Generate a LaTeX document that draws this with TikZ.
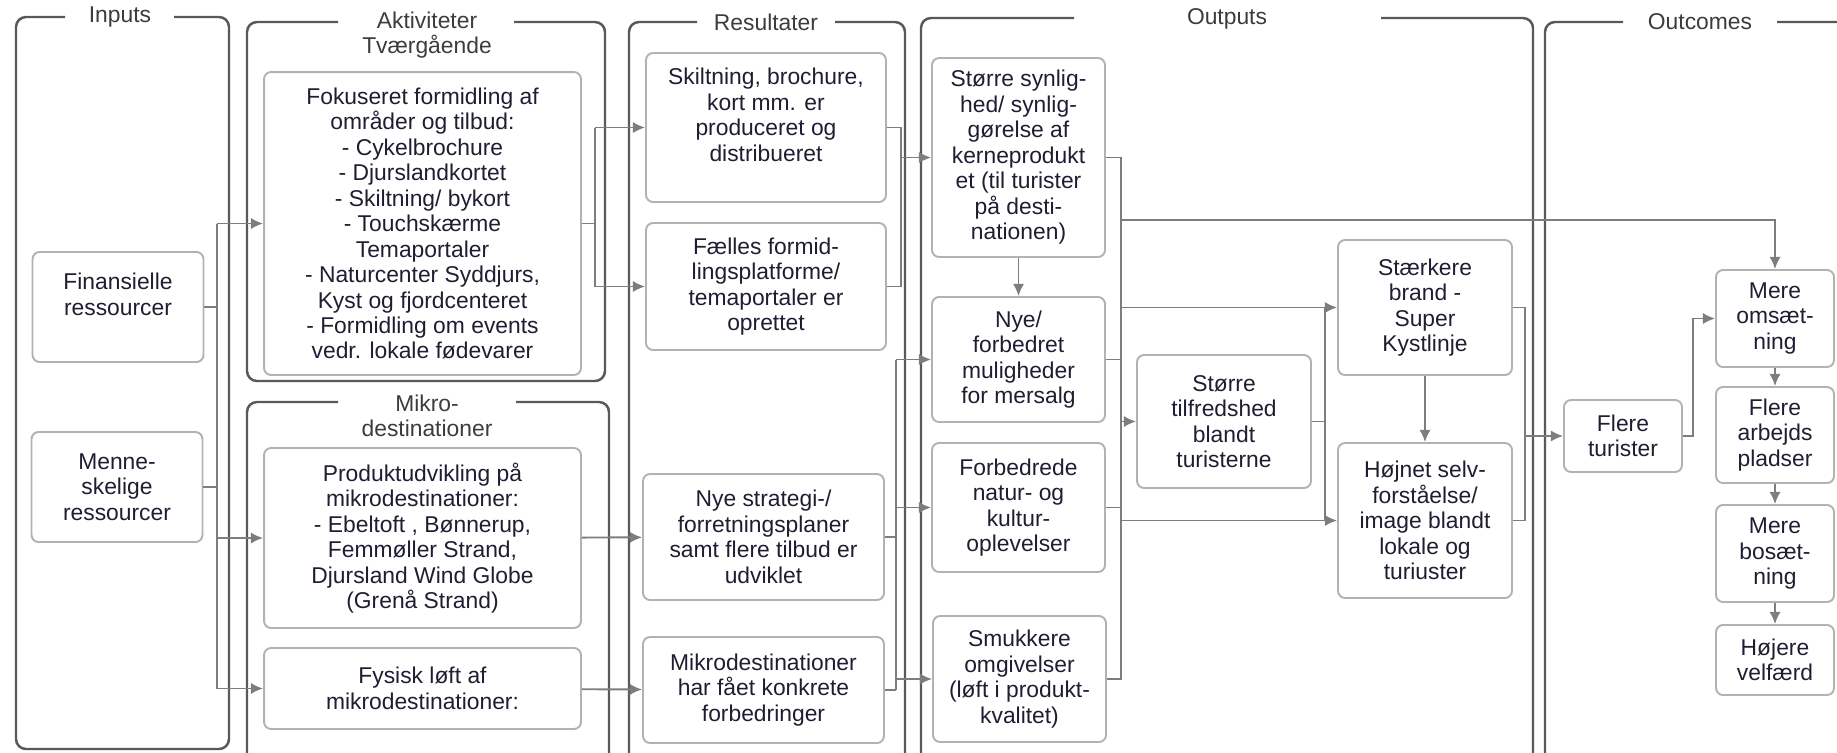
\documentclass[tikz,border=0pt]{standalone}
\usepackage{fontspec}
\setmainfont{Liberation Sans}
\usetikzlibrary{arrows.meta}
\definecolor{tekst}{RGB}{30,30,50}
\definecolor{titelfarve}{RGB}{60,60,60}
\definecolor{rammefarve}{RGB}{89,89,89}
\definecolor{boksfarve}{RGB}{178,178,178}
\definecolor{pilfarve}{RGB}{125,125,125}
\begin{document}
\begin{tikzpicture}[x=0.02cm, y=-0.02cm, >={Latex[length=7pt,width=6.5pt]},
		boks/.style={draw=boksfarve, line width=1.1pt, rounded corners=0.14cm, align=center, inner sep=0pt, text=tekst, font=\fontsize{13}{14.5}\selectfont},
		ramme/.style={draw=rammefarve, line width=1.4pt, rounded corners=0.2cm},
		titel/.style={text=titelfarve, align=center, font=\fontsize{13}{14.5}\selectfont},
		pil/.style={draw=pilfarve, line width=1.1pt}]
		\useasboundingbox (0,0) rectangle (1837,752);
		\clip (0,0) rectangle (1837,752);
		% rammer
		\draw[ramme] (174,17) -- (229,17) -- (229,749) -- (16,749) -- (16,17) -- (65,17);
		\node[titel] (tin) at (120,17) {Inputs};
		\draw[ramme] (514,22) -- (605,22) -- (605,381) -- (247,381) -- (247,22) -- (338,22);
		\node[titel] (tak) at (427,35) {Aktiviteter\\Tværgående};
		\draw[ramme] (516,402) -- (609,402) -- (609,780) -- (247,780) -- (247,402) -- (338,402);
		\node[titel] (tmi) at (427,416) {Mikro-\\destinationer};
		\draw[ramme] (835,22) -- (905,22) -- (905,780) -- (629,780) -- (629,22) -- (697,22);
		\node[titel] (tre) at (766,22) {Resultater};
		\draw[ramme] (1381,18) -- (1533,18) -- (1533,780) -- (921,780) -- (921,18) -- (1074,18);
		\node[titel] (tou) at (1227,19) {Outputs};
		\draw[ramme] (1777,22) -- (1900,22) -- (1900,780) -- (1545,780) -- (1545,22) -- (1623,22);
		\node[titel] (toc) at (1700,22) {Outcomes};
		% inputs
		\node[boks, minimum width=3.42cm, minimum height=2.2cm] (fin) at (118,307) {Finansielle\\ressourcer\\\mbox{}};
		\node[boks, minimum width=3.42cm, minimum height=2.2cm] (men) at (117,487) {Menne-\\skelige\\ressourcer};
		% aktiviteter
		\node[boks, minimum width=6.34cm, minimum height=6.06cm] (fok) at (422.5,223.5) {Fokuseret formidling af\\områder og tilbud:\\- Cykelbrochure\\- Djurslandkortet\\- Skiltning/ bykort\\- Touchskærme\\Temaportaler\\- Naturcenter Syddjurs,\\Kyst og fjordcenteret\\- Formidling om events\\vedr. lokale fødevarer};
		\node[boks, minimum width=6.34cm, minimum height=3.6cm] (prod) at (422.5,538) {Produktudvikling på\\mikrodestinationer:\\- Ebeltoft , Bønnerup,\\Femmøller Strand,\\Djursland Wind Globe\\(Grenå Strand)};
		\node[boks, minimum width=6.34cm, minimum height=1.62cm] (fys) at (422.5,688.5) {Fysisk løft af\\mikrodestinationer:};
		% resultater
		\node[boks, minimum width=4.8cm, minimum height=2.98cm] (ski) at (766,127.5) {Skiltning, brochure,\\kort mm. er\\produceret og\\distribueret\\\mbox{}};
		\node[boks, minimum width=4.8cm, minimum height=2.54cm] (fae) at (766,286.5) {Fælles formid-\\lingsplatforme/\\temaportaler er\\oprettet};
		\node[boks, minimum width=4.82cm, minimum height=2.52cm] (nst) at (763.5,537) {Nye strategi-/\\forretningsplaner\\samt flere tilbud er\\udviklet};
		\node[boks, minimum width=4.82cm, minimum height=2.12cm] (mik) at (763.5,690) {Mikrodestinationer\\har fået konkrete\\forbedringer};
		% outputs
		\node[boks, minimum width=3.46cm, minimum height=3.98cm] (syn) at (1018.5,157.5) {Større synlig-\\hed/ synlig-\\gørelse af\\kerneprodukt\\et (til turister\\på desti-\\nationen)};
		\node[boks, minimum width=3.46cm, minimum height=2.5cm] (mer) at (1018.5,359.5) {Nye/\\forbedret\\muligheder\\for mersalg};
		\node[boks, minimum width=3.46cm, minimum height=2.58cm] (nat) at (1018.5,507.5) {Forbedrede\\natur- og\\kultur-\\oplevelser};
		\node[boks, minimum width=3.46cm, minimum height=2.52cm] (smu) at (1019.5,679) {Smukkere\\omgivelser\\(løft i produkt-\\kvalitet)};
		\node[boks, minimum width=3.48cm, minimum height=2.66cm] (tilf) at (1224,421.5) {Større\\tilfredshed\\blandt\\turisterne};
		\node[boks, minimum width=3.48cm, minimum height=2.7cm] (brand) at (1425,307.5) {Stærkere\\brand -\\Super\\Kystlinje};
		\node[boks, minimum width=3.48cm, minimum height=3.1cm] (selv) at (1425,520.5) {Højnet selv-\\forståelse/\\image blandt\\lokale og\\turiuster};
		% outcomes
		\node[boks, minimum width=2.36cm, minimum height=1.44cm] (fle) at (1623,436) {Flere\\turister};
		\node[boks, minimum width=2.36cm, minimum height=1.94cm] (oms) at (1775,318.5) {Mere\\omsæt-\\ning};
		\node[boks, minimum width=2.36cm, minimum height=1.92cm] (arb) at (1775,435) {Flere\\arbejds\\pladser};
		\node[boks, minimum width=2.36cm, minimum height=1.94cm] (bos) at (1775,553.5) {Mere\\bosæt-\\ning};
		\node[boks, minimum width=2.36cm, minimum height=1.4cm] (vel) at (1775,660) {Højere\\velfærd};
		% forbindelser
		\coordinate (inbus) at (217,0);
		\draw[pil] (fin.east) -- (fin.east -| inbus);
		\draw[pil] (men.east) -- (men.east -| inbus);
		\draw[pil] (inbus |- fok.west) -- (inbus |- fys.west);
		\draw[pil,->] (inbus |- fok.west) -- (fok.west);
		\draw[pil,->] (inbus |- prod.west) -- (prod.west);
		\draw[pil,->] (inbus |- fys.west) -- (fys.west);
		\coordinate (akbus) at (595,0);
		\draw[pil] (fok.east) -- (fok.east -| akbus);
		\draw[pil] (akbus |- ski.west) -- (akbus |- fae.west);
		\draw[pil,->] (akbus |- ski.west) -- (ski.west);
		\draw[pil,->] (akbus |- fae.west) -- (fae.west);
		\draw[pil,->] (prod) -- (nst);
		\draw[pil,->] (fys) -- (mik);
		\coordinate (rebus) at (901,0);
		\draw[pil] (ski.east) -- (ski.east -| rebus) -- (rebus |- fae.east) -- (fae.east);
		\draw[pil,->] (rebus |- syn.west) -- (syn.west);
		\coordinate (mibus) at (896,0);
		\draw[pil] (nst.east) -- (nst.east -| mibus);
		\draw[pil] (mik.east) -- (mik.east -| mibus);
		\draw[pil] (mibus |- mer.west) -- (mibus |- mik.east);
		\draw[pil,->] (mibus |- mer.west) -- (mer.west);
		\draw[pil,->] (mibus |- nat.west) -- (nat.west);
		\draw[pil,->] (mibus |- smu.west) -- (smu.west);
		\draw[pil,->] (syn) -- (mer);
		\coordinate (oubus) at (1121,0);
		\coordinate (omknude) at (1121,220);
		\draw[pil] (syn.east) -- (syn.east -| oubus) -- (oubus |- smu.east) -- (smu.east);
		\draw[pil] (mer.east) -- (mer.east -| oubus);
		\draw[pil] (nat.east) -- (nat.east -| oubus);
		\draw[pil,->] (omknude) -| (oms.north);
		\draw[pil,->] (oubus |- brand.west) -- (brand.west);
		\draw[pil,->] (oubus |- tilf.west) -- (tilf.west);
		\draw[pil,->] (oubus |- selv.west) -- (selv.west);
		\coordinate (tibus) at (1325,0);
		\draw[pil] (tilf.east) -- (tilf.east -| tibus);
		\draw[pil] (tibus |- brand.west) -- (tibus |- selv.west);
		\draw[pil,->] (brand) -- (selv);
		\coordinate (brbus) at (1525,0);
		\draw[pil] (brand.east) -- (brand.east -| brbus) -- (brbus |- selv.east) -- (selv.east);
		\draw[pil,->] (brbus |- fle.west) -- (fle.west);
		\coordinate (flbus) at (1693,0);
		\draw[pil,->] (fle.east) -| (flbus |- oms.west) -- (oms.west);
		\draw[pil,->] (oms) -- (arb);
		\draw[pil,->] (arb) -- (bos);
		\draw[pil,->] (bos) -- (vel);
	\end{tikzpicture}
\end{document}
